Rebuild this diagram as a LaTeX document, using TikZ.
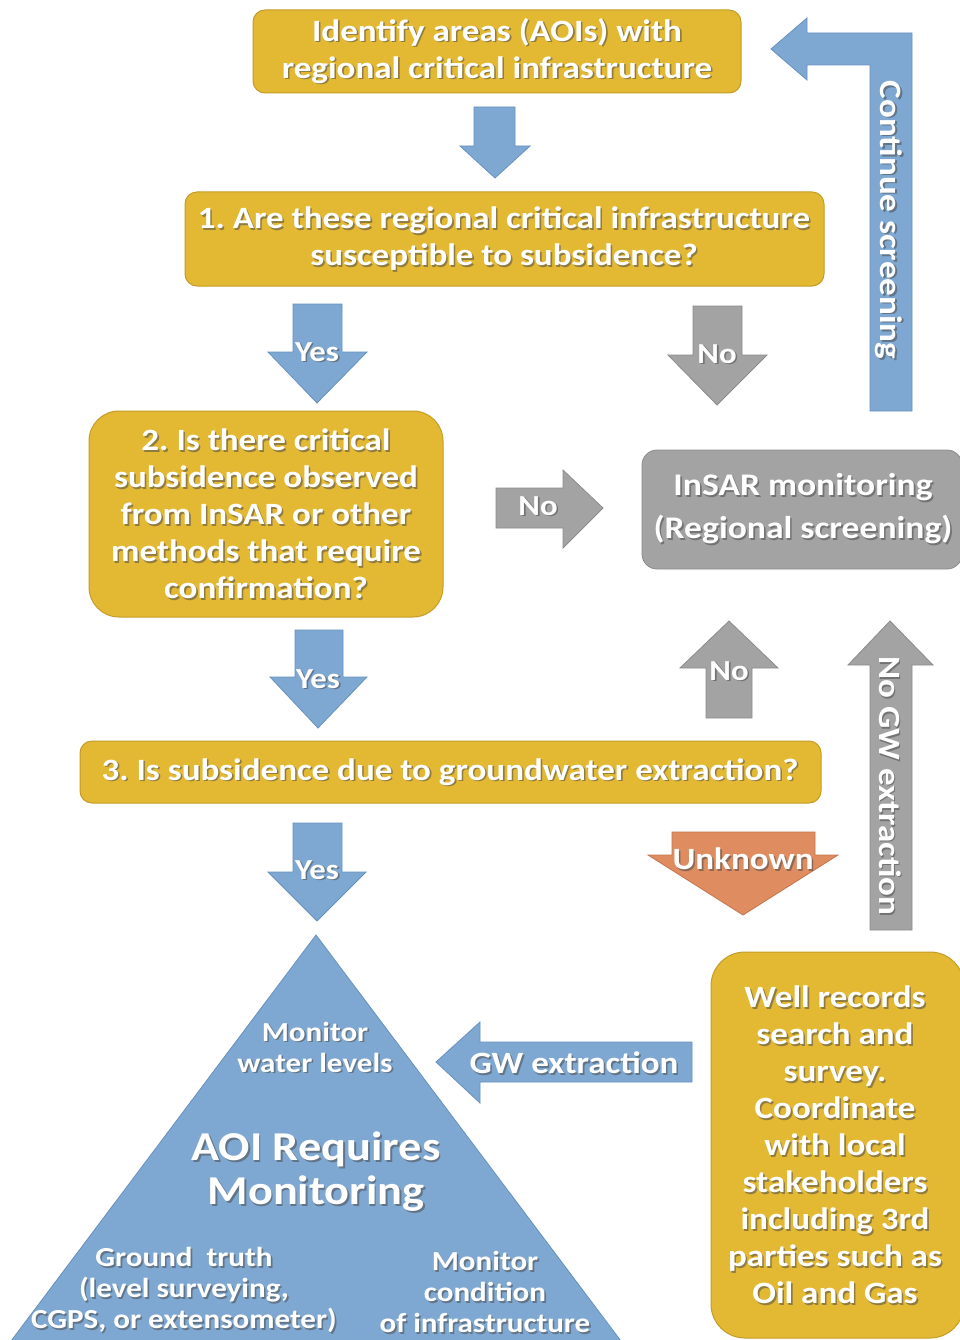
\documentclass[tikz,border=0pt]{standalone}
\usepackage{fontspec}
\setmainfont{Carlito}[FakeStretch=1.13]
\frenchspacing
\begin{document}
\definecolor{gold}{RGB}{227,184,50}
\definecolor{goldline}{RGB}{196,156,40}
\definecolor{skyblue}{RGB}{126,168,210}
\definecolor{skyline}{RGB}{104,146,190}
\definecolor{greybox}{RGB}{163,163,163}
\definecolor{greyline}{RGB}{140,140,140}
\definecolor{salmon}{RGB}{222,140,96}
\definecolor{salmonline}{RGB}{196,118,78}
% white text with a soft dark drop shadow
\newcommand{\shadowtext}[4]{%
  \node[#1, text=black!70, opacity=.55] at ([shift={(1.6,1.6)}]#3) {#4};
  \node[#1, text=white] (#2) at (#3) {#4};}
\begin{tikzpicture}[x=1pt,y=-1pt,
  txt/.style={font=\bfseries\fontsize{31}{37}\selectfont, align=center, inner sep=0pt},
  lbl/.style={txt, font=\bfseries\fontsize{29}{30}\selectfont},
  small/.style={font=\bfseries\fontsize{27.5}{31}\selectfont, align=center, inner sep=0pt},
  goldbox/.style={fill=gold, draw=goldline, line width=1pt, rounded corners=12pt},
  greyshape/.style={fill=greybox, draw=greyline, line width=0.8pt},
  blueshape/.style={fill=skyblue, draw=skyline, line width=0.8pt},
  orangeshape/.style={fill=salmon, draw=salmonline, line width=0.8pt}]
\useasboundingbox (0,0) rectangle (959,1340);
\fill[white] (0,0) rectangle (959,1340);

% decision boxes
\draw[goldbox] (253,10) rectangle (741,93);
\coordinate (a) at (497,51);
\draw[goldbox] (185,192) rectangle (824,286);
\coordinate (b) at (504,239);
\draw[goldbox, rounded corners=30pt] (89,411) rectangle (443,617);
\coordinate (c) at (266,514);
\draw[greyshape, rounded corners=15pt] (642,450) rectangle (962,569);
\coordinate (r) at (803,509);
\draw[goldbox] (80,741) rectangle (821,803);
\coordinate (d) at (450,772);
\draw[goldbox, rounded corners=34pt] (711,952) rectangle (964,1338);
\coordinate (e) at (835,1145);

% pyramid
\draw[blueshape] (316,935) -- (624,1345) -- (8,1345) -- cycle;

% arrows
\draw[blueshape] (474,107) -- (515,107) -- (515,146) -- (530,146) -- (495,178) -- (460,146) -- (474,146) -- cycle;
\draw[blueshape] (293,304) -- (342,304) -- (342,352) -- (367,352) -- (317,403) -- (268,352) -- (293,352) -- cycle;
\draw[greyshape] (693,306) -- (742,306) -- (742,355) -- (767,355) -- (717,405) -- (668,355) -- (693,355) -- cycle;
\draw[greyshape] (496,488) -- (563,488) -- (563,470) -- (603,508) -- (563,548) -- (563,528) -- (496,528) -- cycle;
\draw[blueshape] (870,411) -- (870,65) -- (807,65) -- (807,80) -- (771,49) -- (807,18) -- (807,33) -- (912,33) -- (912,411) -- cycle;
\draw[blueshape] (295,630) -- (343,630) -- (343,677) -- (367,677) -- (318,728) -- (270,677) -- (295,677) -- cycle;
\draw[greyshape] (706,718) -- (706,668) -- (680,668) -- (729,621) -- (778,668) -- (752,668) -- (752,718) -- cycle;
\draw[greyshape] (870,930) -- (870,665) -- (848,665) -- (890,621) -- (933,665) -- (912,665) -- (912,930) -- cycle;
\draw[blueshape] (293,823) -- (342,823) -- (342,872) -- (366,872) -- (317,921) -- (268,872) -- (293,872) -- cycle;
\draw[orangeshape] (672,832) -- (815,832) -- (815,855) -- (838,855) -- (743,915) -- (648,855) -- (672,855) -- cycle;
\draw[blueshape] (692,1042) -- (692,1082) -- (480,1082) -- (480,1103) -- (436,1062) -- (480,1022) -- (480,1042) -- cycle;

% texts
\shadowtext{txt}{ta}{a}{Identify areas (AOIs) with\\regional critical infrastructure}
\shadowtext{txt}{tb}{b}{1. Are these regional critical infrastructure\\susceptible to subsidence?}
\shadowtext{txt}{tc}{c}{2. Is there critical\\subsidence observed\\from InSAR or other\\methods that require\\confirmation?}
\shadowtext{txt, font=\bfseries\fontsize{31.5}{43}\selectfont}{tr}{r}{InSAR monitoring\\(Regional screening)}
\shadowtext{txt}{td}{d}{3. Is subsidence due to groundwater extraction?}
\shadowtext{txt}{te}{e}{Well records\\search and\\survey.\\Coordinate\\with local\\stakeholders\\including 3rd\\parties such as\\Oil and Gas}

\shadowtext{lbl}{y1}{317,352}{Yes}
\shadowtext{lbl}{n1}{717,354}{No}
\shadowtext{lbl}{n2}{538,506}{No}
\shadowtext{lbl}{y2}{318,679}{Yes}
\shadowtext{lbl}{n3}{729,671}{No}
\shadowtext{lbl}{y3}{317,870}{Yes}
\shadowtext{txt}{un}{743,859}{Unknown}
\shadowtext{txt, rotate=-90}{cs}{889,220}{Continue screening}
\shadowtext{txt, rotate=-90}{ng}{890,786}{No GW extraction}
\shadowtext{txt}{gw}{574,1063}{GW extraction}

\shadowtext{small}{p1}{315,1047}{Monitor\\water levels}
\shadowtext{txt, font=\bfseries\fontsize{41}{44}\selectfont}{p2}{316,1172}{AOI Requires\\Monitoring}
\shadowtext{small}{p3}{184,1290}{Ground\ \ truth\\(level surveying,\\CGPS, or extensometer)}
\shadowtext{small}{p4}{485,1292}{Monitor\\condition\\of infrastructure}
\end{tikzpicture}
\end{document}
